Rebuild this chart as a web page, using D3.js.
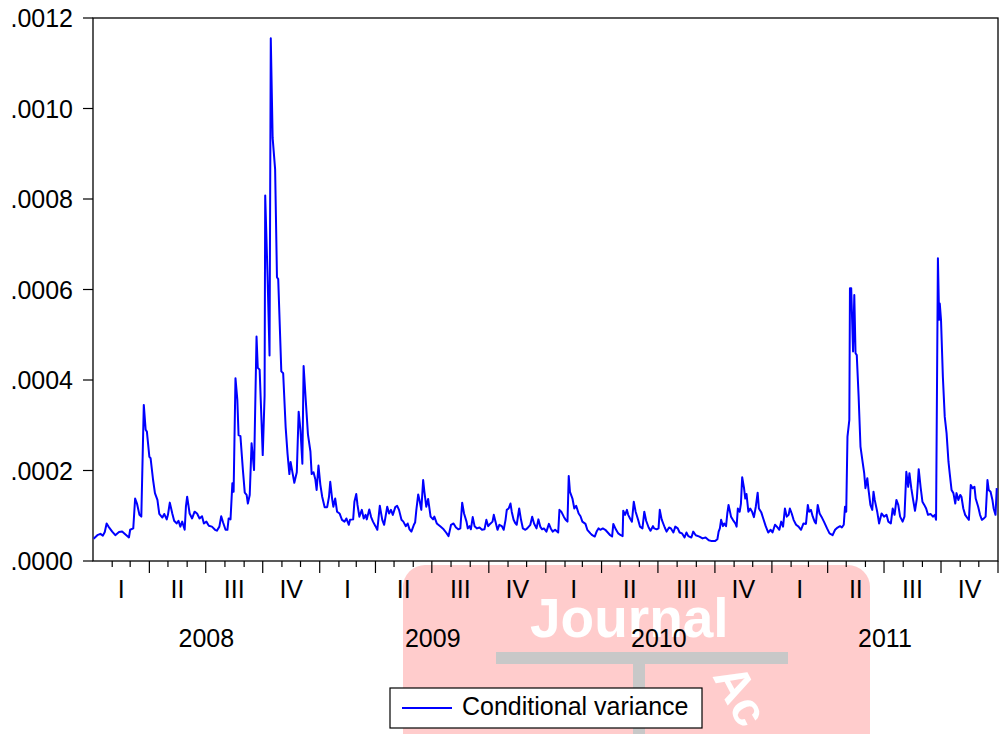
<!DOCTYPE html>
<html>
<head>
<meta charset="utf-8">
<script src="https://cdn.jsdelivr.net/npm/d3@7"></script>
<style>
  body { margin: 0; background: #fff; }
  svg text { font-family: "Liberation Sans", Arial, sans-serif; fill: #000; }
</style>
</head>
<body>
<div id="chart"></div>
<script>
// ---- data ----
// days since 2008-01-01 for each observation
const dayOffsets = [
  1, 7, 12, 16, 19, 22, 25, 31, 36, 42, 47, 52, 58, 60, 65, 68, 71, 75, 78, 82,
  85, 87, 91, 93, 97, 100, 104, 107, 112, 115, 119, 121, 124, 128, 131, 135, 138, 141, 144, 148,
  150, 152, 156, 160, 164, 168, 172, 176, 179, 183, 187, 192, 197, 200, 204, 207, 210, 214, 217, 219,
  222, 225, 227, 230, 233, 235, 238, 242, 245, 248, 250, 253, 256, 258, 260, 264, 266, 269, 272, 274,
  277, 278, 282, 285, 287, 290, 294, 297, 299, 304, 307, 311, 314, 317, 319, 322, 325, 329, 332, 335,
  338, 340, 343, 347, 351, 353, 356, 359, 361, 364, 367, 370, 374, 378, 381,
  383, 386, 388, 391, 394, 398, 402, 406, 409, 413, 415, 420, 422, 425, 427, 430, 434, 437, 440, 442,
  446, 449, 452, 456, 459, 463, 467, 470, 475, 478, 481, 484, 488, 491, 494, 498, 501, 505, 508, 511,
  514, 518, 520, 522, 525, 527, 530, 533, 535, 538, 541, 545, 549, 551, 555, 561, 566, 570, 574, 578,
  582, 586, 590, 593, 596, 599, 603, 605, 608, 610, 613, 616, 620, 624, 628, 632, 635, 638, 641, 645,
  647, 649, 653, 656, 660, 663, 666, 668, 671, 674, 676, 679, 682, 684, 688, 691, 694, 698, 701, 706,
  709, 712, 716, 719, 722, 725, 728, 732, 736, 739, 742, 746, 751, 753, 756, 760, 763, 766, 768, 770,
  774, 777, 780, 784, 787, 790, 795, 798, 803, 806, 810, 813, 816, 819, 823, 827, 831, 835, 838, 840,
  844, 848, 852, 855, 856, 859, 862, 864, 867, 870, 873, 876, 880, 883, 887, 890, 893, 897, 900, 904,
  906, 910, 913, 915, 918, 923, 926, 930, 933, 937, 940, 944, 947, 951, 955, 958, 961, 966, 969, 973,
  979, 984, 989, 994, 999, 1004, 1008, 1010, 1012, 1014, 1017, 1019, 1022, 1024, 1026, 1030, 1033, 1037, 1039, 1041,
  1044, 1046, 1048, 1051, 1053, 1055, 1058, 1061, 1064, 1067, 1070, 1073, 1075, 1079, 1082, 1086, 1090, 1094, 1097, 1101,
  1104, 1108, 1111, 1114, 1117, 1120, 1123, 1125, 1128, 1131, 1135, 1139, 1143, 1147, 1151, 1154, 1156, 1159, 1162, 1165,
  1167, 1170, 1173, 1176, 1180, 1185, 1189, 1194, 1198, 1202, 1206, 1209, 1212, 1214, 1216, 1218, 1221, 1222, 1224, 1227,
  1229, 1231, 1233, 1236, 1239, 1242, 1245, 1247, 1250, 1252, 1255, 1258, 1260, 1262, 1266, 1269, 1273, 1277, 1281, 1284,
  1288, 1291, 1294, 1297, 1300, 1303, 1307, 1310, 1313, 1316, 1318, 1321, 1324, 1327, 1330, 1333, 1336, 1339, 1342, 1345,
  1348, 1352, 1356, 1359, 1361, 1364, 1366, 1367, 1369, 1372, 1375, 1378, 1381, 1383, 1386, 1389, 1392, 1394, 1397, 1400,
  1402, 1405, 1408, 1410, 1414, 1417, 1420, 1423, 1425, 1429, 1432, 1435, 1438, 1441, 1444, 1446, 1449, 1452, 1454, 1457,
  1459
];
// conditional variance, in units of 1e-4
const varianceE4 = [
  0.49, 0.57, 0.60, 0.56, 0.64, 0.83, 0.76, 0.65, 0.57, 0.64, 0.65, 0.59, 0.52, 0.69, 0.72, 1.38, 1.27, 1.02, 0.98, 3.45,
  2.90, 2.86, 2.30, 2.27, 1.79, 1.50, 1.35, 1.04, 0.96, 1.04, 0.92, 1.02, 1.29, 1.05, 0.89, 0.83, 0.89, 0.76, 0.87, 0.69,
  1.20, 1.42, 1.05, 0.94, 1.09, 1.05, 0.94, 0.99, 0.83, 0.87, 0.78, 0.76, 0.69, 0.67, 0.76, 0.99, 0.85, 0.69, 0.69, 0.94,
  0.92, 1.72, 1.53, 4.04, 3.56, 2.78, 2.76, 2.01, 1.51, 1.46, 1.27, 1.46, 2.60, 2.31, 2.01, 4.96, 4.27, 4.23, 3.11, 2.34,
  3.65, 8.08, 6.19, 4.54, 11.55, 9.35, 8.66, 6.27, 6.23, 4.19, 4.15, 2.96, 2.38, 1.92, 2.19, 1.96, 1.73, 1.96, 3.30, 2.88,
  2.15, 4.31, 3.65, 2.80, 2.42, 1.92, 1.96, 1.80, 1.57, 2.11, 1.69, 1.42, 1.19, 1.19, 1.42,
  1.75, 1.38, 1.20, 1.38, 1.09, 1.05, 0.91, 0.87, 0.94, 0.80, 0.91, 0.92, 1.31, 1.48, 1.24, 0.98, 1.13, 0.94, 1.02, 0.92,
  1.14, 0.97, 0.87, 0.77, 0.69, 1.22, 0.91, 0.80, 1.20, 1.05, 1.13, 1.02, 1.19, 1.22, 1.13, 0.91, 0.87, 0.77, 0.83, 0.70,
  0.65, 0.80, 0.85, 1.13, 1.47, 1.35, 1.13, 1.79, 1.53, 1.20, 1.37, 0.98, 0.92, 0.98, 0.83, 0.76, 0.70, 0.63, 0.55, 0.80,
  0.83, 0.74, 0.70, 0.72, 1.29, 1.05, 0.87, 0.72, 0.77, 0.70, 0.97, 0.77, 0.72, 0.74, 0.69, 0.70, 0.91, 0.77, 0.82, 0.87,
  1.02, 0.91, 0.69, 0.80, 0.77, 0.69, 0.91, 1.13, 1.16, 1.27, 1.09, 0.91, 0.83, 0.80, 1.16, 0.91, 0.72, 0.69, 0.72, 0.80,
  0.98, 0.83, 0.72, 0.92, 0.76, 0.70, 0.72, 0.65, 0.82, 0.72, 0.65, 0.69, 0.63, 1.13, 1.09, 0.98, 0.91, 0.87, 1.88, 1.53,
  1.38, 1.16, 1.22, 1.05, 0.99, 0.87, 0.82, 0.69, 0.61, 0.57, 0.54, 0.65, 0.72, 0.69, 0.72, 0.69, 0.63, 0.57, 0.54, 0.82,
  0.70, 0.61, 0.57, 0.55, 1.11, 1.02, 1.13, 1.02, 0.94, 0.87, 1.31, 1.09, 0.91, 0.76, 0.72, 1.09, 0.89, 0.74, 0.67, 0.77,
  0.72, 0.70, 0.72, 1.13, 0.92, 0.74, 0.65, 0.74, 0.72, 0.63, 0.76, 0.72, 0.63, 0.61, 0.52, 0.63, 0.55, 0.52, 0.65, 0.57,
  0.54, 0.50, 0.52, 0.46, 0.44, 0.44, 0.48, 0.65, 0.72, 0.91, 0.77, 0.83, 0.77, 1.05, 1.24, 0.98, 0.91, 0.83, 0.76, 1.16,
  1.09, 1.27, 1.85, 1.61, 1.38, 1.48, 1.09, 1.16, 1.09, 0.97, 1.20, 1.51, 1.16, 1.07, 0.94, 0.77, 0.63, 0.69, 0.63, 0.80,
  0.76, 0.69, 0.87, 0.76, 1.16, 0.98, 1.02, 1.16, 1.05, 0.91, 0.80, 0.76, 0.69, 0.83, 0.82, 1.24, 1.09, 1.13, 0.98, 0.87,
  0.83, 1.24, 1.05, 0.98, 0.87, 0.72, 0.61, 0.57, 0.69, 0.74, 0.77, 0.74, 0.80, 1.20, 1.09, 2.75, 3.12, 6.03, 6.03, 4.63,
  5.88, 4.59, 4.55, 3.63, 2.53, 2.23, 1.94, 1.61, 1.83, 1.57, 1.24, 1.13, 1.53, 1.35, 1.09, 0.83, 1.05, 0.98, 1.02, 0.87,
  0.83, 1.16, 1.02, 1.35, 1.24, 0.98, 0.87, 0.98, 1.97, 1.64, 1.94, 1.61, 1.35, 1.11, 1.38, 2.03, 1.64, 1.31, 1.24, 1.16,
  1.02, 1.04, 0.98, 1.02, 0.91, 6.69, 5.33, 5.69, 5.33, 4.07, 3.19, 2.82, 2.20, 1.94, 1.57, 1.50, 1.27, 1.50, 1.35, 1.46,
  1.42, 1.16, 1.02, 0.98, 0.91, 1.68, 1.61, 1.64, 1.38, 1.20, 1.02, 0.91, 0.94, 0.98, 1.79, 1.57, 1.53, 1.35, 1.16, 1.02,
  1.61
];
const years = [2008, 2009, 2010, 2011];
const quarterLabels = ["I", "II", "III", "IV"];
const yTicks = [0, 0.0002, 0.0004, 0.0006, 0.0008, 0.0010, 0.0012];
const seriesName = "Conditional variance";

// ---- layout ----
const W = 1003, H = 734;
const plot = {left: 93, right: 998, top: 18, bottom: 561};
const FONT = 25;

const svg = d3.select("#chart").append("svg")
    .attr("width", W)
    .attr("height", H);

// background watermark of the source page
const wm = svg.append("g").attr("class", "watermark");
wm.append("rect")
    .attr("x", 403).attr("y", 565)
    .attr("width", 467).attr("height", 200)
    .attr("rx", 22)
    .attr("fill", "#ffcccc");
wm.append("text")
    .attr("x", 530).attr("y", 637)
    .attr("font-size", 55)
    .attr("font-weight", "bold")
    .style("fill", "#fff")
    .text("Journal");
wm.append("rect")
    .attr("x", 496).attr("y", 652)
    .attr("width", 292).attr("height", 12)
    .attr("fill", "#c8c8c8");
wm.append("rect")
    .attr("x", 633).attr("y", 664)
    .attr("width", 12).attr("height", 80)
    .attr("fill", "#c8c8c8");
wm.append("text")
    .attr("transform", "translate(712,676) rotate(62)")
    .attr("font-size", 48)
    .attr("font-weight", "bold")
    .style("fill", "#fff")
    .text("Ac");

// scales
const start = new Date(Date.UTC(2008, 0, 1));
const end = new Date(Date.UTC(2012, 0, 1));

const x = d3.scaleUtc()
    .domain([start, end])
    .range([plot.left, plot.right]);

const y = d3.scaleLinear()
    .domain([0, 0.0012])
    .range([plot.bottom, plot.top]);

const series = dayOffsets.map((d, i) => ({
    date: d3.utcDay.offset(start, d),
    value: varianceE4[i] * 1e-4
}));

// frame
svg.append("rect")
    .attr("x", plot.left).attr("y", plot.top)
    .attr("width", plot.right - plot.left)
    .attr("height", plot.bottom - plot.top)
    .attr("fill", "none")
    .attr("stroke", "#000")
    .attr("stroke-width", 1.3);

// line
const line = d3.line()
    .x(d => x(d.date))
    .y(d => y(d.value));

svg.append("path")
    .datum(series)
    .attr("d", line)
    .attr("fill", "none")
    .attr("stroke", "#0000ff")
    .attr("stroke-width", 2)
    .attr("stroke-linejoin", "round");

// y axis
const yAxis = svg.append("g").attr("class", "y-axis");
yAxis.selectAll("line")
    .data(yTicks)
    .enter().append("line")
    .attr("x1", plot.left - 10).attr("x2", plot.left)
    .attr("y1", d => y(d)).attr("y2", d => y(d))
    .attr("stroke", "#000")
    .attr("stroke-width", 1.2);
yAxis.selectAll("text")
    .data(yTicks)
    .enter().append("text")
    .attr("x", plot.left - 20)
    .attr("y", d => y(d))
    .attr("dy", "0.36em")
    .attr("text-anchor", "end")
    .attr("font-size", FONT)
    .text(d => d3.format(".4f")(d).replace(/^0/, ""));

// x axis: month ticks, quarter ticks longer
const months = d3.utcMonth.range(d3.utcMonth.offset(start, 1), d3.utcMonth.offset(end, 1));
const xAxis = svg.append("g").attr("class", "x-axis");
xAxis.selectAll("line")
    .data(months)
    .enter().append("line")
    .attr("x1", d => x(d)).attr("x2", d => x(d))
    .attr("y1", plot.bottom)
    .attr("y2", d => plot.bottom + (d.getUTCMonth() % 3 === 0 ? 12 : 6))
    .attr("stroke", "#000")
    .attr("stroke-width", 1.2);

const quarters = [];
years.forEach(yr => quarterLabels.forEach((q, i) => {
    const a = new Date(Date.UTC(yr, i * 3, 1));
    const b = new Date(Date.UTC(yr, i * 3 + 3, 1));
    quarters.push({label: q, mid: new Date((+a + +b) / 2)});
}));

xAxis.selectAll("text.quarter")
    .data(quarters)
    .enter().append("text")
    .attr("class", "quarter")
    .attr("x", d => x(d.mid))
    .attr("y", plot.bottom + 37)
    .attr("text-anchor", "middle")
    .attr("font-size", FONT)
    .text(d => d.label);

xAxis.selectAll("text.year")
    .data(years)
    .enter().append("text")
    .attr("class", "year")
    .attr("x", d => x(new Date((Date.UTC(d, 0, 1) + Date.UTC(d + 1, 0, 1)) / 2)))
    .attr("y", plot.bottom + 86)
    .attr("text-anchor", "middle")
    .attr("font-size", FONT)
    .text(d => d);

// legend
const legend = svg.append("g")
    .attr("class", "legend")
    .attr("transform", "translate(390,688)");
legend.append("rect")
    .attr("width", 312).attr("height", 40)
    .attr("fill", "#fff")
    .attr("stroke", "#000")
    .attr("stroke-width", 1.2);
legend.append("line")
    .attr("x1", 12).attr("x2", 62)
    .attr("y1", 20).attr("y2", 20)
    .attr("stroke", "#0000ff")
    .attr("stroke-width", 2);
legend.append("text")
    .attr("x", 72).attr("y", 27)
    .attr("font-size", FONT)
    .text(seriesName);
</script>
</body>
</html>
